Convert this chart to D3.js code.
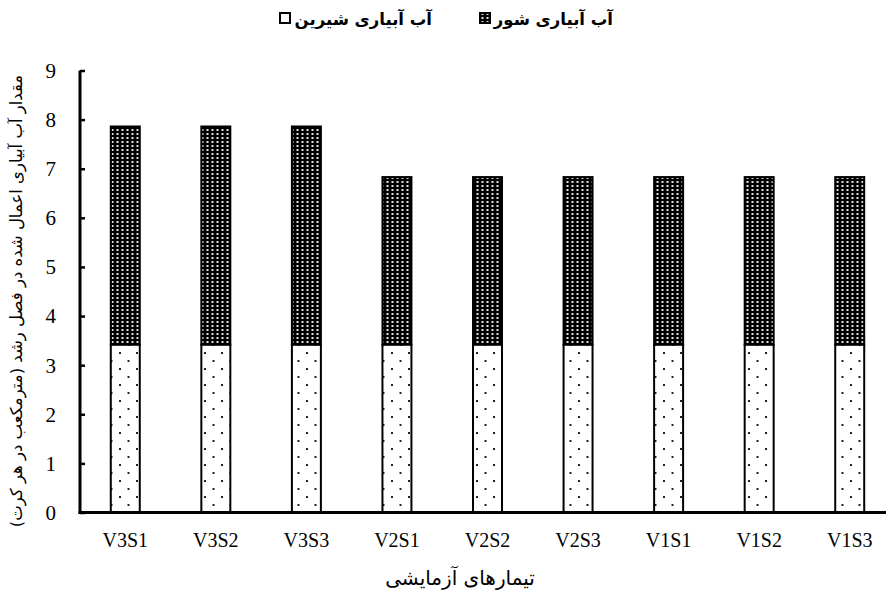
<!DOCTYPE html>
<html><head><meta charset="utf-8">
<script src="https://cdn.jsdelivr.net/npm/d3@7"></script>
<style>html,body{margin:0;padding:0;background:#fff;}</style>
</head><body>
<svg id="chart" width="886" height="592"></svg>
<script>
const categories = ["V3S1","V3S2","V3S3","V2S1","V2S2","V2S3","V1S1","V1S2","V1S3"];
const freshWater = [3.42,3.42,3.42,3.42,3.42,3.42,3.42,3.42,3.42];
const salineWater = [4.44,4.44,4.44,3.41,3.41,3.41,3.41,3.41,3.41];
const yTicks = [0,1,2,3,4,5,6,7,8,9];
const seriesNames = ["آب آبیاری شیرین","آب آبیاری شور"];
const xTitle = "تیمارهای آزمایشی";
const yTitle = "مقدار آب آبیاری اعمال شده در فصل رشد (مترمکعب در هر کرت)";

const svg = d3.select("#chart");
const defs = svg.append("defs");
const pf = defs.append("pattern").attr("id","pFresh").attr("patternUnits","userSpaceOnUse")
  .attr("width",17).attr("height",16);
pf.append("rect").attr("width",17).attr("height",16).attr("fill","#fff");
pf.append("rect").attr("x",0).attr("y",0).attr("width",2).attr("height",2).attr("fill","#222");
pf.append("rect").attr("x",8.5).attr("y",8).attr("width",2).attr("height",2).attr("fill","#222");
const ps = defs.append("pattern").attr("id","pSaline").attr("patternUnits","userSpaceOnUse")
  .attr("width",5).attr("height",4);
ps.append("rect").attr("width",5).attr("height",4).attr("fill","#000");
ps.append("rect").attr("x",1.5).attr("y",1).attr("width",2).attr("height",2).attr("fill","#e0e0e0");

const x = d3.scaleBand().domain(categories).range([80,895]).paddingInner(0.68).paddingOuter(0.34);
const y = d3.scaleLinear().domain([0,9]).range([512.5,70.5]);

const data = categories.map((c,i)=>({c, f:freshWater[i], s:salineWater[i]}));

const g = svg.append("g");
g.selectAll(".fresh").data(data).join("rect")
  .attr("x",d=>x(d.c)).attr("width",x.bandwidth())
  .attr("y",d=>y(d.f)).attr("height",d=>y(0)-y(d.f))
  .attr("fill","url(#pFresh)").attr("stroke","#000").attr("stroke-width",2);
g.selectAll(".saline").data(data).join("rect")
  .attr("x",d=>x(d.c)).attr("width",x.bandwidth())
  .attr("y",d=>y(d.f+d.s)).attr("height",d=>y(d.f)-y(d.f+d.s))
  .attr("fill","url(#pSaline)").attr("stroke","#000").attr("stroke-width",2);

const yAxis = d3.axisRight(y).tickValues(yTicks).tickSize(5).tickFormat("");
const ya = svg.append("g").attr("transform","translate(80,0)").call(yAxis);
ya.select(".domain").remove();
ya.selectAll("line").attr("stroke","#000").attr("stroke-width",2.5);
svg.append("line").attr("x1",80).attr("x2",80).attr("y1",y(9)).attr("y2",y(0)+1.5)
  .attr("stroke","#000").attr("stroke-width",3);
svg.append("g").selectAll("text").data(yTicks).join("text")
  .attr("x",56).attr("y",d=>y(d)).attr("dy","0.35em").attr("text-anchor","end")
  .attr("font-family","Liberation Serif").attr("font-size",21).attr("fill","#000").text(d=>d);

const xAxis = d3.axisBottom(x).tickSize(0).tickPadding(16);
const xa = svg.append("g").attr("transform",`translate(0,${y(0)})`).call(xAxis);
xa.select(".domain").attr("stroke","#000").attr("stroke-width",3).attr("d","M78.5,0H886");
xa.selectAll("text").attr("font-family","Liberation Serif").attr("font-size",20).attr("fill","#000").attr("dy","0.9em");

svg.append("text").attr("x",460).attr("y",585).attr("text-anchor","middle")
  .attr("font-family","DejaVu Sans").attr("font-size",20).attr("fill","#000").attr("direction","rtl").text(xTitle);
svg.append("text").attr("transform","translate(22,301) rotate(-90)").attr("text-anchor","middle")
  .attr("font-family","DejaVu Sans").attr("font-size",16.5).attr("fill","#000").attr("direction","rtl").text(yTitle);

const leg = svg.append("g");
const legItems = [{name:seriesNames[1], fill:"url(#pSaline)", textRight:613, iconX:480},
                  {name:seriesNames[0], fill:"#fff", textRight:432, iconX:280}];
legItems.forEach(it=>{
  leg.append("text").attr("x",it.textRight).attr("y",25).attr("text-anchor","end")
    .attr("font-family","DejaVu Sans").attr("font-weight","bold").attr("font-size",16.5).attr("fill","#000").text(it.name);
  leg.append("rect").attr("x",it.iconX).attr("y",13).attr("width",10).attr("height",10)
    .attr("fill",it.fill).attr("stroke","#000").attr("stroke-width",2);
});
</script>
</body></html>
